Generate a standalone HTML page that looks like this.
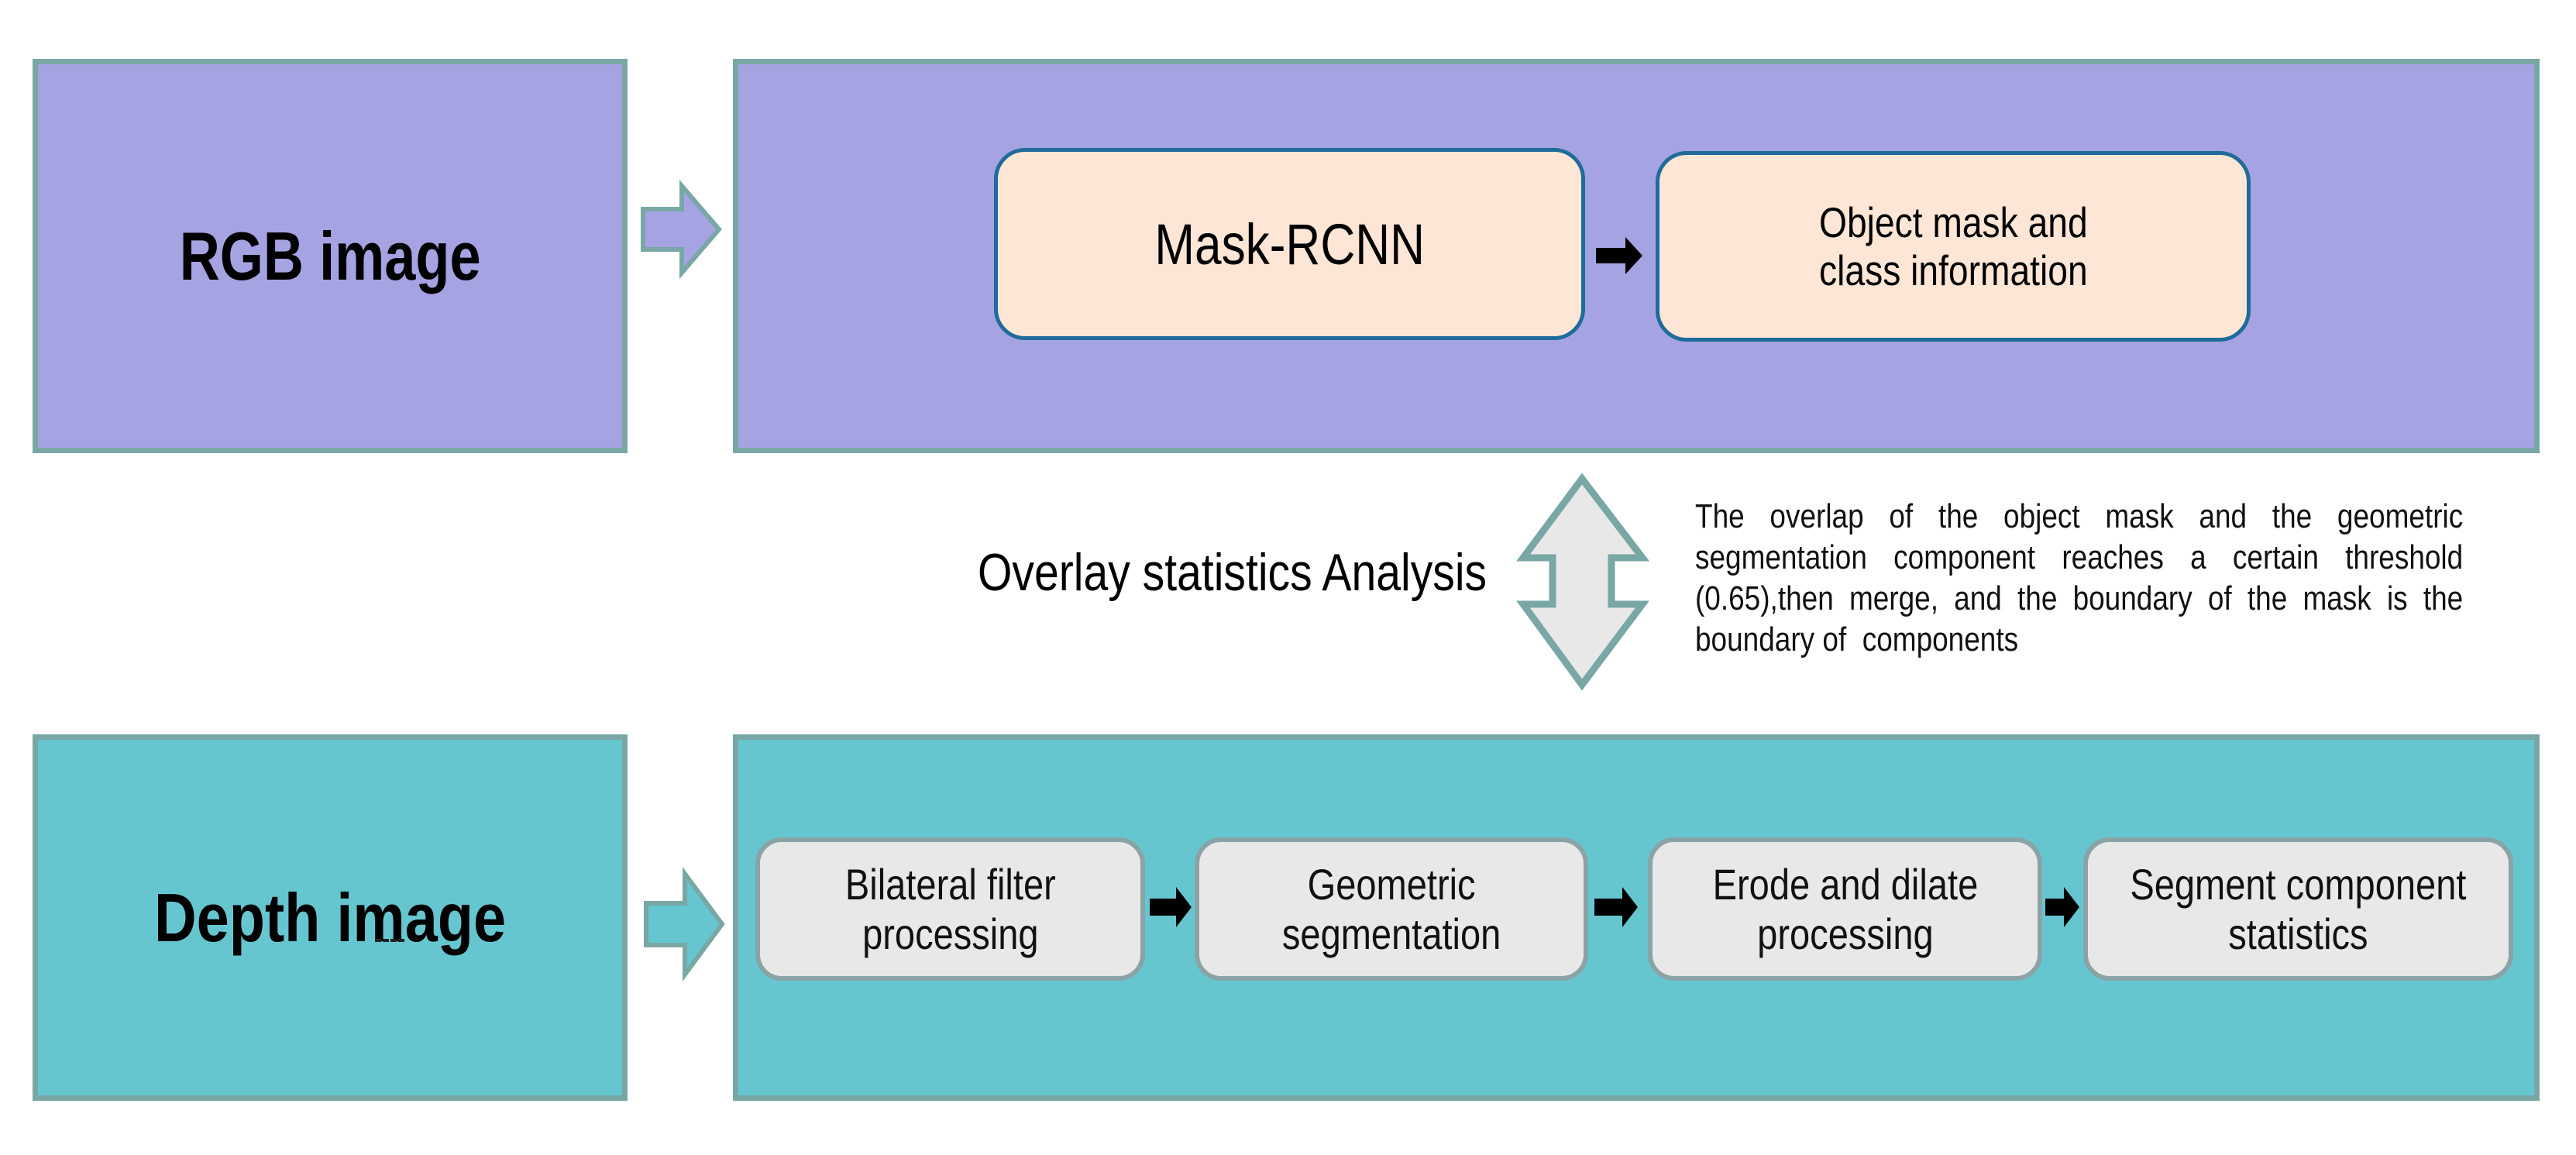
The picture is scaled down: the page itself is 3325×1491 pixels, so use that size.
<!DOCTYPE html>
<html><head><meta charset="utf-8"><style>
html,body{margin:0;padding:0;background:#fff;}
body{width:3325px;height:1491px;position:relative;overflow:hidden;font-family:"Liberation Sans","DejaVu Sans",sans-serif;}
.abs{position:absolute;box-sizing:border-box;}
.big{border:7px solid #79a7a5;}
.pur{background:#a6a3e3;}
.tea{background:#66c6d0;}
.c{display:flex;align-items:center;justify-content:center;text-align:center;}
.n{display:inline-block;transform:scaleX(0.84);}
.pe{background:#fde6d6;border:5px solid #1f6b99;border-radius:40px;}
.gr{background:#e8e8e8;border:6px solid #8aa3a6;border-radius:34px;font-size:56px;line-height:64px;color:#111;}
</style></head><body>
<div class="abs big pur c" style="left:42px;top:76px;width:768px;height:509px;"><span class="n" style="font-weight:bold;font-size:88px;transform:scaleX(0.82);">RGB image</span></div>
<div class="abs big pur" style="left:946px;top:76px;width:2332px;height:509px;"></div>
<div class="abs big tea c" style="left:42px;top:948px;width:768px;height:473px;"><span class="n" style="font-weight:bold;font-size:88px;transform:scaleX(0.86);">Depth image</span></div>
<div class="abs big tea" style="left:946px;top:948px;width:2332px;height:473px;"></div>
<div class="abs" style="left:484px;top:1212px;width:38px;border-top:4px dashed #222;"></div>

<svg class="abs" style="left:0;top:0" width="3325" height="1491">
<polygon points="830,270 880,270 880,240 928,296 880,352 880,322 830,322" fill="#a6a3e3" stroke="#79a7a5" stroke-width="6"/>
<polygon points="834,1166 884,1166 884,1128 932,1193 884,1258 884,1220 834,1220" fill="#66c6d0" stroke="#79a7a5" stroke-width="6"/>
<polygon points="2042,618 2120,720 2080,720 2080,780 2120,780 2042,884 1966,780 2004,780 2004,720 1966,720" fill="#e8e8e8" stroke="#79a7a5" stroke-width="9"/>
<g fill="#000">
<polygon points="2060,320 2098,320 2098,306 2120,330 2098,354 2098,340 2060,340"/>
<polygon points="1484,1160 1518,1160 1518,1145 1538,1171 1518,1197 1518,1182 1484,1182"/>
<polygon points="2058,1160 2094,1160 2094,1145 2114,1171 2094,1197 2094,1182 2058,1182"/>
<polygon points="2640,1160 2664,1160 2664,1145 2684,1171 2664,1197 2664,1182 2640,1182"/>
</g>
</svg>

<div class="abs pe c" style="left:1283px;top:191px;width:763px;height:248px;font-size:74px;"><span class="n">Mask-RCNN</span></div>
<div class="abs pe c" style="left:2137px;top:195px;width:768px;height:246px;font-size:55px;line-height:62px;"><span class="n">Object mask and<br>class information</span></div>

<div class="abs" style="left:1262px;top:700px;width:700px;font-size:68px;white-space:nowrap;"><span class="n" style="transform-origin:left;">Overlay statistics Analysis</span></div>

<div class="abs" style="left:2188px;top:640px;width:1180px;font-size:44px;line-height:53px;text-align:justify;transform:scaleX(0.84);transform-origin:left top;color:#111;">The overlap of the object mask and the geometric segmentation component reaches a certain threshold (0.65),then merge, and the boundary of the mask is the boundary of&nbsp; components</div>

<div class="abs gr c" style="left:975px;top:1081px;width:503px;height:185px;"><span class="n">Bilateral filter<br>processing</span></div>
<div class="abs gr c" style="left:1542px;top:1081px;width:508px;height:185px;"><span class="n">Geometric<br>segmentation</span></div>
<div class="abs gr c" style="left:2127px;top:1081px;width:509px;height:185px;"><span class="n">Erode and dilate<br>processing</span></div>
<div class="abs gr c" style="left:2689px;top:1081px;width:555px;height:185px;"><span class="n">Segment component<br>statistics</span></div>
</body></html>
